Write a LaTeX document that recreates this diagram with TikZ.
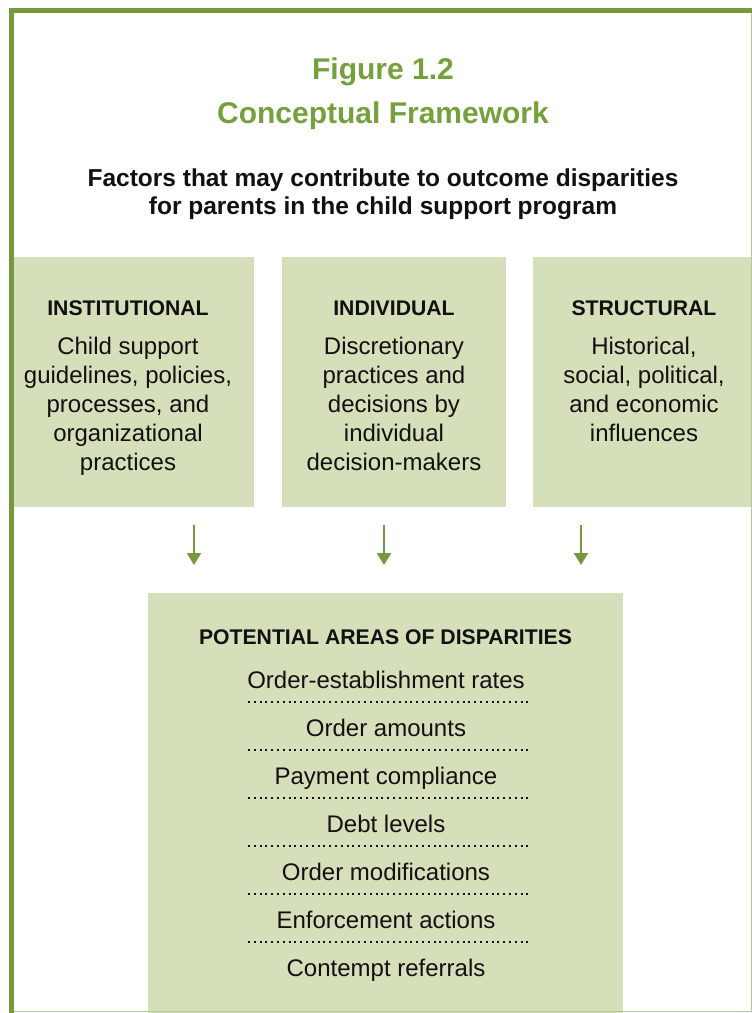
\documentclass[tikz,border=0pt]{standalone}
\usepackage{fontspec}
\setmainfont{Liberation Sans}
\usetikzlibrary{arrows.meta}
\definecolor{frame}{HTML}{77993D}
\definecolor{titlegreen}{HTML}{76A03C}
\definecolor{panelfill}{HTML}{D5E0BA}
\definecolor{ink}{HTML}{111111}

\begin{document}
\begin{tikzpicture}[
    x=1pt, y=-1pt,
    arr/.style={-{Triangle[length=12pt, width=14pt]}, line width=2.2pt, color=frame},
    panel/.style={rectangle, fill=panelfill, draw=none, inner sep=0pt},
    title/.style={font=\bfseries\fontsize{30}{36}\selectfont, text=titlegreen, anchor=base},
    head/.style={font=\bfseries\fontsize{21.2}{25}\selectfont, text=ink, anchor=base},
    body/.style={font=\fontsize{24}{29}\selectfont, text=ink, align=center, anchor=north, inner sep=0pt},
    item/.style={font=\fontsize{24}{29}\selectfont, text=ink, anchor=base},
    sep/.style={ink, line width=1.9pt, dash pattern=on 1.9pt off 3.9pt},
]
\useasboundingbox (0,0) rectangle (752,1013);

% ================================================================ titles
\node[title] (fig) at (383, 79.5) {Figure 1.2};
\node[title] (name) at (383, 123.5) {Conceptual Framework};
\node[font=\bfseries\fontsize{24.5}{28}\selectfont, text=ink, align=center, anchor=north, inner sep=0pt]
    (lead) at (383, 168.3)
    {Factors that may contribute to outcome disparities\\for parents in the child support program};

% ================================================================ three kinds of factors
\node[panel, minimum width=240pt, minimum height=250pt] (inst) at (134, 382) {};
\node[panel, minimum width=224pt, minimum height=250pt] (indiv) at (394, 382) {};
\node[panel, minimum width=219pt, minimum height=250pt] (struct) at (642.5, 382) {};

\node[head] (insthead) at (128, 315) {INSTITUTIONAL};
\node[body] (instbody) at (128, 337)
    {Child support\\guidelines, policies,\\processes, and\\organizational\\practices};

\node[head] (indivhead) at (394, 315) {INDIVIDUAL};
\node[body] (indivbody) at (394, 337)
    {Discretionary\\practices and\\decisions by\\individual\\decision-makers};

\node[head] (structhead) at (644, 315) {STRUCTURAL};
\node[body] (structbody) at (644, 337)
    {Historical,\\social, political,\\and economic\\influences};

\foreach \x [count=\i] in {194, 384, 581}{
    \coordinate (from\i) at (\x, 525);
    \coordinate (to\i) at (\x, 565);
    \draw[arr] (from\i) -- (to\i);
}

% ================================================================ areas of disparities
\node[panel, minimum width=475pt, minimum height=420pt] (areas) at (385.5, 803) {};
\node[head] (areashead) at (385.5, 644) {POTENTIAL AREAS OF DISPARITIES};

\foreach \t [count=\i] in {Order-establishment rates, Order amounts, Payment compliance,
    Debt levels, Order modifications, Enforcement actions, Contempt referrals}{
    \node[item] (item\i) at (386, 640+48*\i) {\t};
}
\foreach \i in {1,...,6}{
    \draw[sep] (248, 654+48*\i) -- (531, 654+48*\i);
}

% ================================================================ frame
\draw[frame!55, line width=1.2pt] (14, 1011.4) -- (751.4, 1011.4) -- (751.4, 13);
\draw[frame, line width=5pt] (11.5, 1013) -- (11.5, 10.5) -- (752, 10.5);

\end{tikzpicture}
\end{document}
